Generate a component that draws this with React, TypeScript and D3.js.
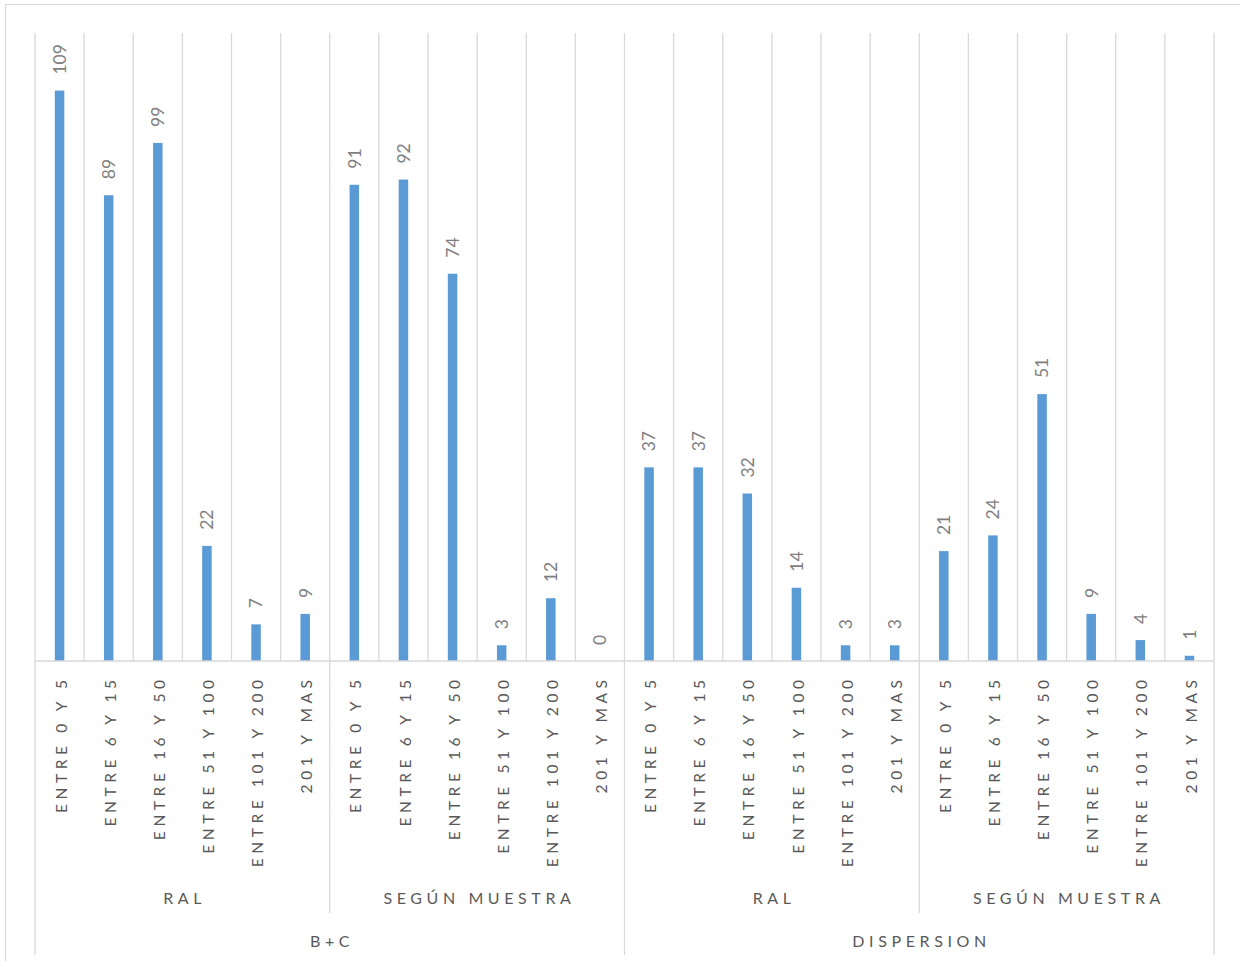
import React from "react";
import * as d3 from "d3";

// Top-level groups (outer axis level)
const groups = ["B+C", "DISPERSION"];
// Sub-groups inside each group (middle axis level)
const subGroups = ["RAL", "SEGÚN MUESTRA"];
// Range categories (inner axis level)
const ranges = [
  "ENTRE 0 Y 5",
  "ENTRE 6 Y 15",
  "ENTRE 16 Y 50",
  "ENTRE 51 Y 100",
  "ENTRE 101 Y 200",
  "201 Y MAS",
];

// Counts per range, for each group / sub-group
const bcRal = [109, 89, 99, 22, 7, 9];
const bcMuestra = [91, 92, 74, 3, 12, 0];
const dispRal = [37, 37, 32, 14, 3, 3];
const dispMuestra = [21, 24, 51, 9, 4, 1];

const seriesByGroup = [
  [bcRal, bcMuestra],
  [dispRal, dispMuestra],
];

const yMax = 120;

type Row = { key: string; group: number; sub: number; range: number; value: number };

const rows: Row[] = [];
seriesByGroup.forEach((subs, g) =>
  subs.forEach((vals, s) =>
    vals.forEach((v, r) =>
      rows.push({ key: `${g}-${s}-${r}`, group: g, sub: s, range: r, value: v })
    )
  )
);

const W = 1240;
const H = 961;
const plot = { left: 35, right: 1214, top: 33, bottom: 661 };

const FONT = "Lato, 'Open Sans', sans-serif";
const GRID = "#d9d9d9";
const BAR = "#5b9bd5";

export default function App() {
  const x = d3
    .scaleBand<string>()
    .domain(rows.map((d) => d.key))
    .range([plot.left, plot.right])
    .paddingInner(0)
    .paddingOuter(0);
  const y = d3.scaleLinear().domain([0, yMax]).range([plot.bottom, plot.top]);
  const bw = x.bandwidth();
  const barW = 9.5;

  const nRange = ranges.length;
  const perGroup = subGroups.length * nRange;

  // boundaries between categories
  const boundaries = d3.range(rows.length + 1).map((i) => plot.left + i * bw);

  const catY = 680;
  const catLS = 4.6;
  const subY = 904;
  const grpY = 947;
  const subLineEnd = 913;
  const grpLineEnd = 955;

  return (
    <svg
      width={W}
      height={H}
      style={{ position: "absolute", left: 0, top: 0, background: "#fff" }}
      fontFamily={FONT}
    >
      <rect x={0} y={0} width={W} height={H} fill="#fff" />
      {/* chart frame */}
      <line x1={5} x2={W} y1={4.5} y2={4.5} stroke={GRID} strokeWidth={1.2} />
      <line x1={5.5} x2={5.5} y1={4} y2={H} stroke={GRID} strokeWidth={1.2} />

      {/* vertical gridlines at category boundaries */}
      {boundaries.map((bx, i) => (
        <line
          key={`g${i}`}
          x1={bx}
          x2={bx}
          y1={plot.top}
          y2={plot.bottom}
          stroke={GRID}
          strokeWidth={1.3}
        />
      ))}

      {/* bars */}
      {rows.map((d) => {
        const cx = (x(d.key) as number) + bw / 2;
        return (
          <rect
            key={`b${d.key}`}
            x={cx - barW / 2}
            y={y(d.value)}
            width={barW}
            height={plot.bottom - y(d.value)}
            fill={BAR}
          />
        );
      })}

      {/* value labels */}
      {rows.map((d) => {
        const cx = (x(d.key) as number) + bw / 2;
        const ty = y(d.value) - 16;
        return (
          <text
            key={`v${d.key}`}
            transform={`translate(${cx},${ty}) rotate(-90)`}
            textAnchor="start"
            dy="0.36em"
            fontSize={17.5}
            fill="#7f7f7f"
          >
            {d.value}
          </text>
        );
      })}

      {/* category axis line */}
      <line
        x1={plot.left}
        x2={plot.right}
        y1={plot.bottom}
        y2={plot.bottom}
        stroke={GRID}
        strokeWidth={1.3}
      />

      {/* sub-group separators */}
      {d3.range(groups.length * subGroups.length + 1).map((i) => {
        const bx = plot.left + i * nRange * bw;
        const isGroupEdge = i % subGroups.length === 0;
        return (
          <line
            key={`s${i}`}
            x1={bx}
            x2={bx}
            y1={plot.bottom}
            y2={isGroupEdge ? grpLineEnd : subLineEnd}
            stroke={GRID}
            strokeWidth={1.3}
          />
        );
      })}

      {/* inner category labels */}
      {rows.map((d) => {
        const cx = (x(d.key) as number) + bw / 2;
        return (
          <text
            key={`c${d.key}`}
            transform={`translate(${cx + 1.5},${catY - catLS}) rotate(-90)`}
            textAnchor="end"
            dy="0.36em"
            fontSize={15.5}
            letterSpacing={catLS}
            fill="#595959"
          >
            {ranges[d.range]}
          </text>
        );
      })}

      {/* sub-group labels */}
      {groups.map((_, g) =>
        subGroups.map((s, si) => {
          const x0 = plot.left + (g * perGroup + si * nRange) * bw;
          const cx = x0 + (nRange * bw) / 2;
          return (
            <text
              key={`sg${g}-${si}`}
              x={cx + 2.3}
              y={subY}
              textAnchor="middle"
              fontSize={16}
              letterSpacing={4.6}
              fill="#595959"
            >
              {s}
            </text>
          );
        })
      )}

      {/* group labels */}
      {groups.map((gname, g) => {
        const cx = plot.left + (g * perGroup + perGroup / 2) * bw;
        return (
          <text
            key={`gr${g}`}
            x={cx + 2.3}
            y={grpY}
            textAnchor="middle"
            fontSize={16}
            letterSpacing={4.6}
            fill="#595959"
          >
            {gname}
          </text>
        );
      })}
    </svg>
  );
}
